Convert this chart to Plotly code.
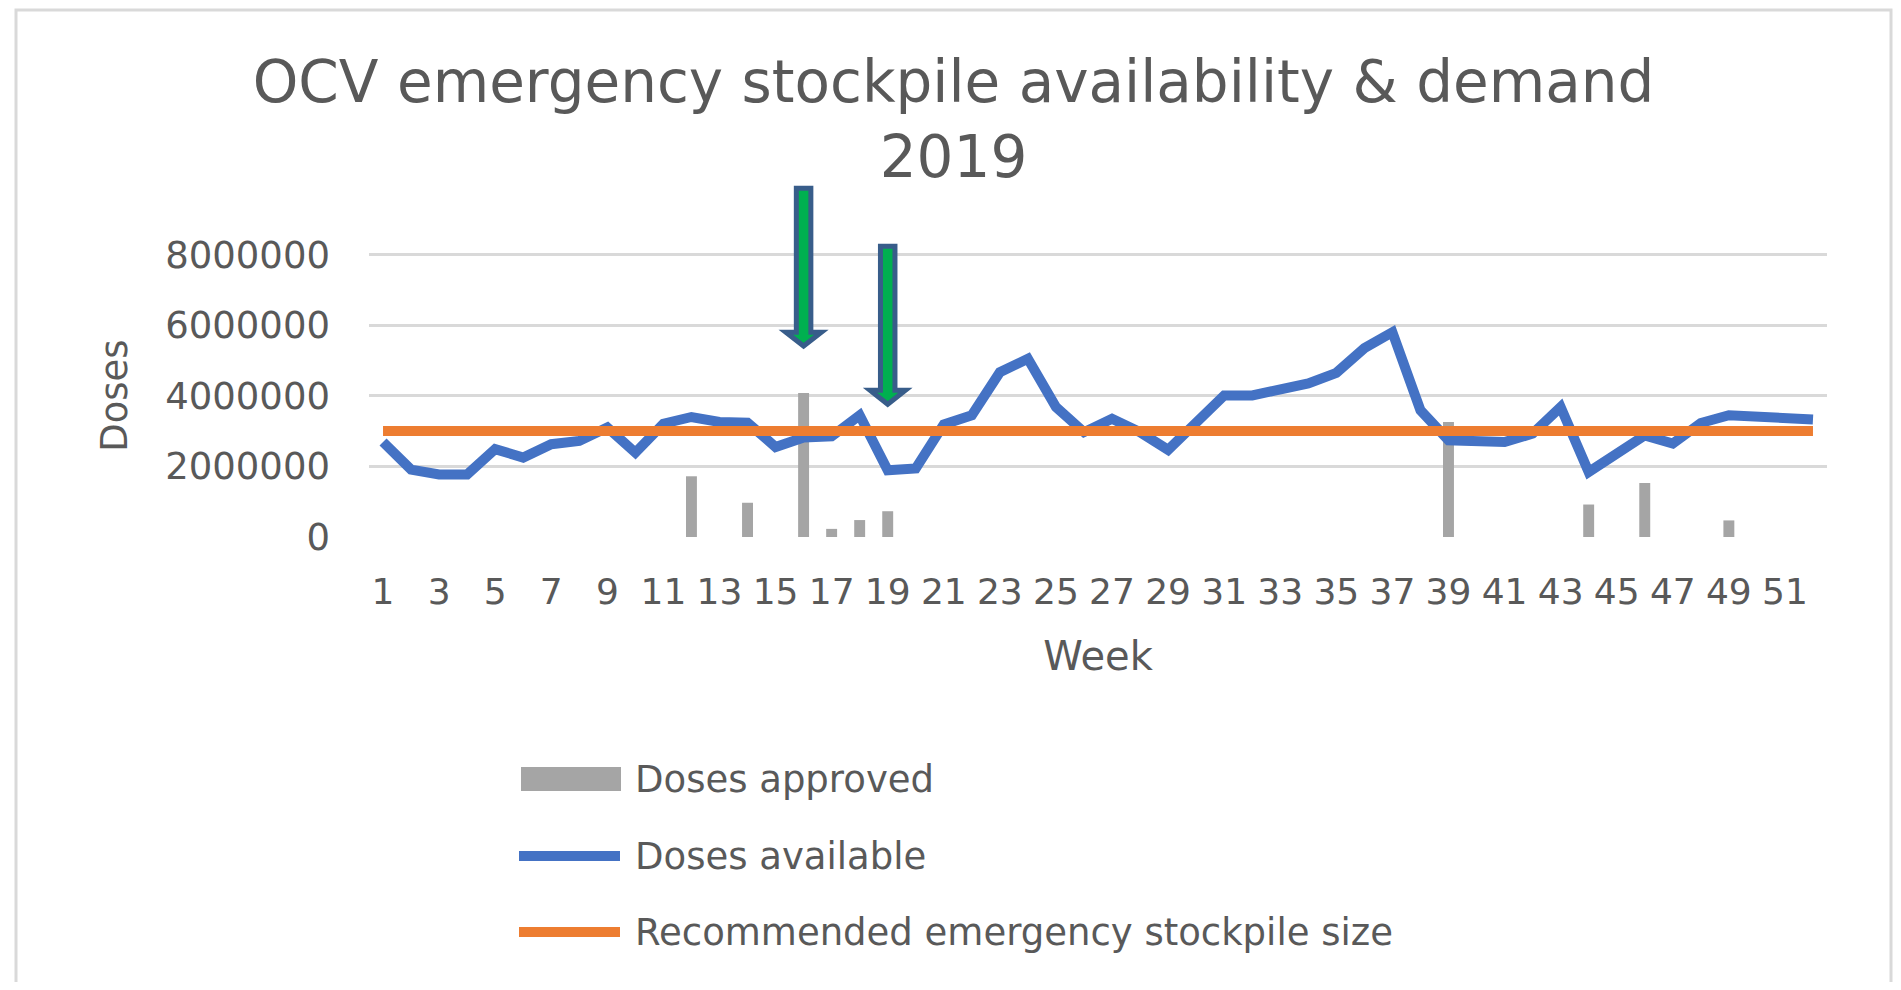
import plotly.graph_objects as go

# ---------------- data ----------------
weeks = list(range(1, 53))

doses_available = [
    2690000, 1910000, 1770000, 1770000, 2490000, 2250000, 2630000, 2720000,
    3100000, 2390000, 3210000, 3400000, 3260000, 3240000, 2550000, 2820000,
    2850000, 3450000, 1890000, 1940000, 3190000, 3450000, 4670000, 5050000,
    3680000, 2970000, 3350000, 2970000, 2470000, 3260000, 4010000, 4010000,
    4200000, 4350000, 4650000, 5350000, 5800000, 3590000, 2740000, 2690000,
    2690000, 2930000, 3680000, 1840000, 2340000, 2880000, 2650000, 3230000,
    3450000, 3420000, 3400000, 3330000,
]

recommended_size = [3000000] * 52

approved_weeks = [12, 14, 16, 17, 18, 19, 39, 44, 46, 49]
approved_doses = [1720000, 970000, 4080000, 230000, 480000, 730000,
                  3260000, 920000, 1530000, 470000]

y_tick_values = [0, 2000000, 4000000, 6000000, 8000000]
x_tick_values = list(range(1, 52, 2))
x_tick_labels = [str(v) for v in x_tick_values]

series_names = ["Doses approved", "Doses available",
                "Recommended emergency stockpile size"]

# highlighted weeks (green arrows)
arrow_weeks = [16, 19]
arrow_tops = [9880000, 8240000]
arrow_head_bases = [5800000, 4160000]
arrow_tips = [5410000, 3760000]

# ---------------- layout constants ----------------
OFF = 8                       # default body margin of the html page
W, H = 1901 - 2 * OFF, 990 - 2 * OFF
PLOT_X0, PLOT_X1 = 369, 1827  # page pixels of the plot area
PLOT_Y0, PLOT_Y1 = 184, 537
L = PLOT_X0 - OFF
R = OFF + W - PLOT_X1
T = PLOT_Y0 - OFF
B = OFF + H - PLOT_Y1
PW, PH = W - L - R, H - T - B

FONT = "DejaVu Sans"
TXT = "#595959"
GRAY = "#a5a5a5"
BLUE = "#4472c4"
ORANGE = "#ed7d31"


def px_x(px):
    """page pixel x -> paper coordinate"""
    return (px - PLOT_X0) / PW


def px_y(py):
    """page pixel y -> paper coordinate"""
    return (PLOT_Y1 - py) / PH


fig = go.Figure()

fig.add_trace(go.Bar(
    x=approved_weeks, y=approved_doses, name=series_names[0],
    marker=dict(color=GRAY, line=dict(width=0)),
))
fig.add_trace(go.Scatter(
    x=weeks, y=doses_available, name=series_names[1], mode="lines",
    line=dict(color=BLUE, width=10),
))
fig.add_trace(go.Scatter(
    x=weeks, y=recommended_size, name=series_names[2], mode="lines",
    line=dict(color=ORANGE, width=10),
))

shapes = []
# chart-area border
shapes.append(dict(type="rect", xref="paper", yref="paper",
                   x0=px_x(16), x1=px_x(1891), y0=px_y(1010), y1=px_y(10),
                   line=dict(color="#d9d9d9", width=3), layer="below"))

# arrows
sh, hh = 0.259, 0.633
for wk, top, base, tip in zip(arrow_weeks, arrow_tops, arrow_head_bases, arrow_tips):
    path = (f"M{wk - sh},{top} L{wk + sh},{top} L{wk + sh},{base} "
            f"L{wk + hh},{base} L{wk},{tip} L{wk - hh},{base} "
            f"L{wk - sh},{base} Z")
    shapes.append(dict(type="path", xref="x", yref="y", path=path,
                       fillcolor="#00b050",
                       line=dict(color="#385d8a", width=5), layer="above"))

# legend symbols
shapes.append(dict(type="rect", xref="paper", yref="paper",
                   x0=px_x(521), x1=px_x(621), y0=px_y(791), y1=px_y(767),
                   fillcolor=GRAY, line=dict(width=0)))
shapes.append(dict(type="line", xref="paper", yref="paper",
                   x0=px_x(519), x1=px_x(620), y0=px_y(856), y1=px_y(856),
                   line=dict(color=BLUE, width=10)))
shapes.append(dict(type="line", xref="paper", yref="paper",
                   x0=px_x(519), x1=px_x(620), y0=px_y(932), y1=px_y(932),
                   line=dict(color=ORANGE, width=10)))

annotations = []
for name, py in zip(series_names, [779, 856, 932]):
    annotations.append(dict(text=name, xref="paper", yref="paper",
                            x=px_x(633), y=px_y(py), xanchor="left",
                            yanchor="middle", showarrow=False,
                            font=dict(family=FONT, size=37, color=TXT)))
annotations.append(dict(text="Doses", xref="paper", yref="y",
                        x=px_x(115), y=4000000, textangle=-90,
                        xanchor="center", yanchor="middle", showarrow=False,
                        font=dict(family=FONT, size=37, color=TXT)))

fig.update_layout(
    width=W, height=H,
    margin=dict(l=L, r=R, t=T, b=B, pad=0),
    paper_bgcolor="white", plot_bgcolor="white",
    showlegend=False,
    bargap=0.61,
    title=dict(
        text="OCV emergency stockpile availability & demand<br>2019",
        x=(953.5 - OFF) / W, xanchor="center", xref="container",
        y=1 - (102 - OFF) / H, yanchor="top", yref="container",
        font=dict(family=FONT, size=58, color=TXT),
    ),
    shapes=shapes,
    annotations=annotations,
    xaxis=dict(
        range=[0.5, 52.5], tickmode="array", tickvals=x_tick_values,
        ticktext=x_tick_labels, showgrid=False, zeroline=False,
        showline=False, ticks="", ticklabelstandoff=30,
        tickfont=dict(family=FONT, size=36, color=TXT),
        title=dict(text="Week", standoff=30,
                   font=dict(family=FONT, size=40, color=TXT)),
    ),
    yaxis=dict(
        range=[0, 10000000], tickmode="array", tickvals=y_tick_values,
        tickformat="d", showgrid=True, gridcolor="#d9d9d9", gridwidth=3,
        zeroline=False, showline=False, ticks="", ticklabelstandoff=38,
        tickfont=dict(family=FONT, size=37, color=TXT),
    ),
    font=dict(family=FONT, color=TXT),
)

fig.write_html("out.html")
